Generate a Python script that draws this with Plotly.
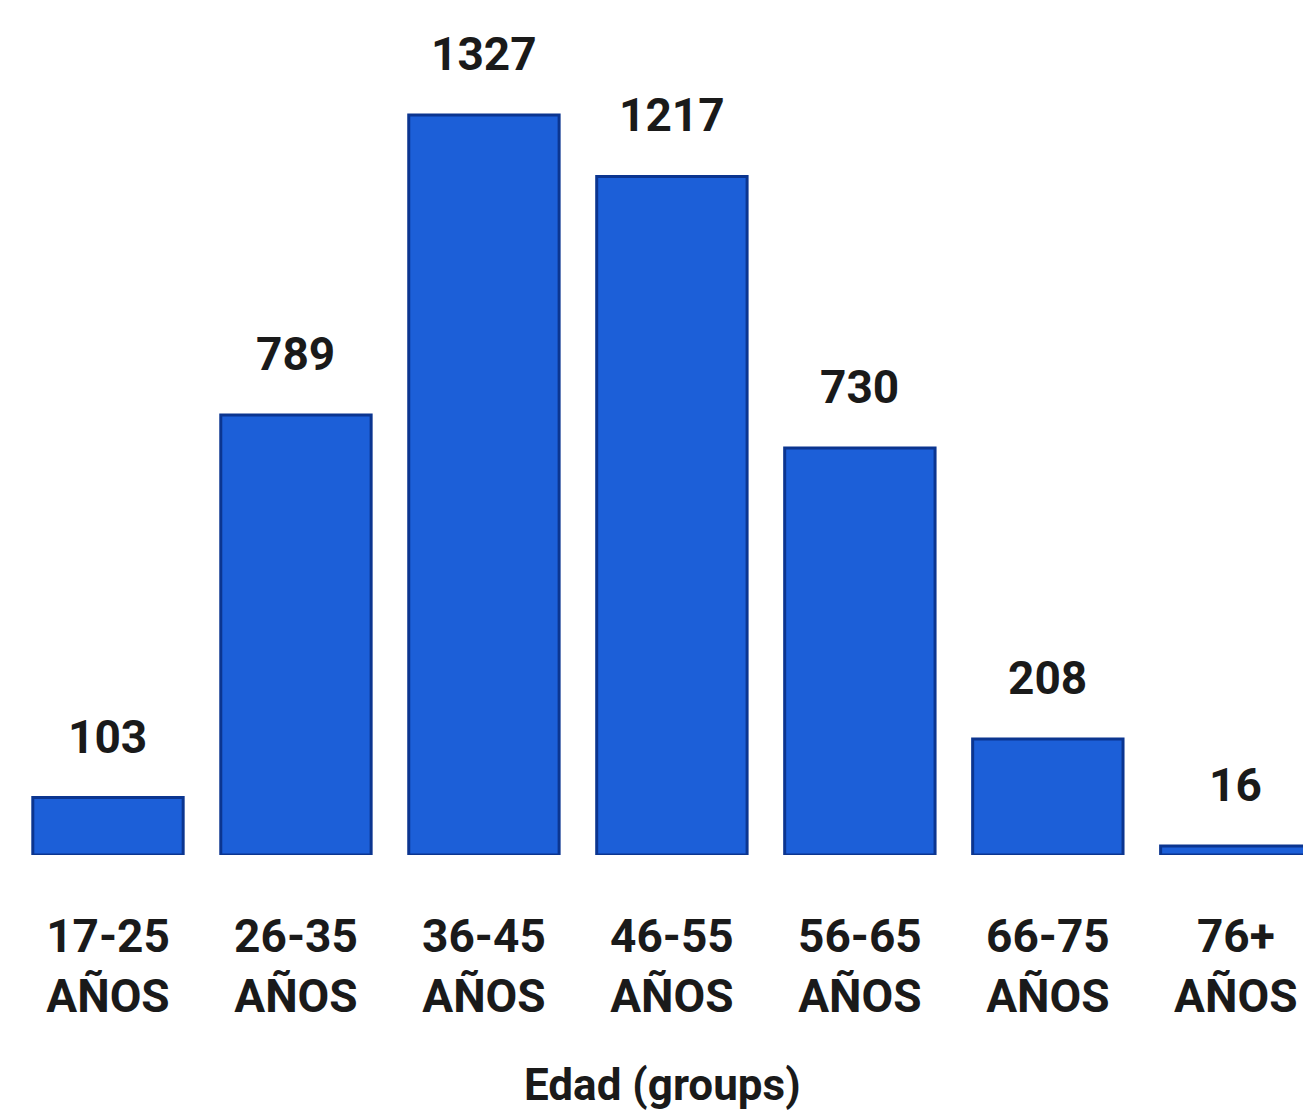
import plotly.graph_objects as go

categories = ["17-25<br>AÑOS", "26-35<br>AÑOS", "36-45<br>AÑOS", "46-55<br>AÑOS",
              "56-65<br>AÑOS", "66-75<br>AÑOS", "76+<br>AÑOS"]
values = [103, 789, 1327, 1217, 730, 208, 16]
x_title = "Edad (groups)"

W, H = 1311, 1117
ml, mr, mt, mb = 6, 8, 0, 270
ymax = 1519

fig = go.Figure()
fig.add_trace(go.Bar(
    x=list(range(len(values))), y=values,
    marker=dict(color="#1c5fd8", line=dict(color="#0b3590", width=3)),
    width=0.8, hoverinfo="skip",
))

for i, v in enumerate(values):
    fig.add_annotation(x=i, y=v, text=f"<b>{v}</b>", showarrow=False,
                       yanchor="bottom", yshift=32,
                       font=dict(family="Roboto", size=46, color="#1a1a1a"))

fig.add_annotation(x=0.5, xref="paper", y=-(1085 - 855) / 847, yref="paper",
                   text=f"<b>{x_title}</b>", showarrow=False, yanchor="middle",
                   font=dict(family="Roboto", size=44, color="#1a1a1a"))

fig.update_xaxes(
    range=[-0.5, 6.4], tickmode="array", tickvals=list(range(len(values))),
    ticktext=[f"<b>{c}</b>" for c in categories], showgrid=False, zeroline=False,
    showline=False, ticks="", ticklabelstandoff=50,
    tickfont=dict(family="Roboto", size=46, color="#1a1a1a"),
)
fig.update_yaxes(range=[0, ymax], visible=False, showgrid=False)

fig.update_layout(
    width=W, height=H, margin=dict(l=ml, r=mr, t=mt, b=mb),
    paper_bgcolor="white", plot_bgcolor="white", showlegend=False,
)
fig.write_html("out.html")
